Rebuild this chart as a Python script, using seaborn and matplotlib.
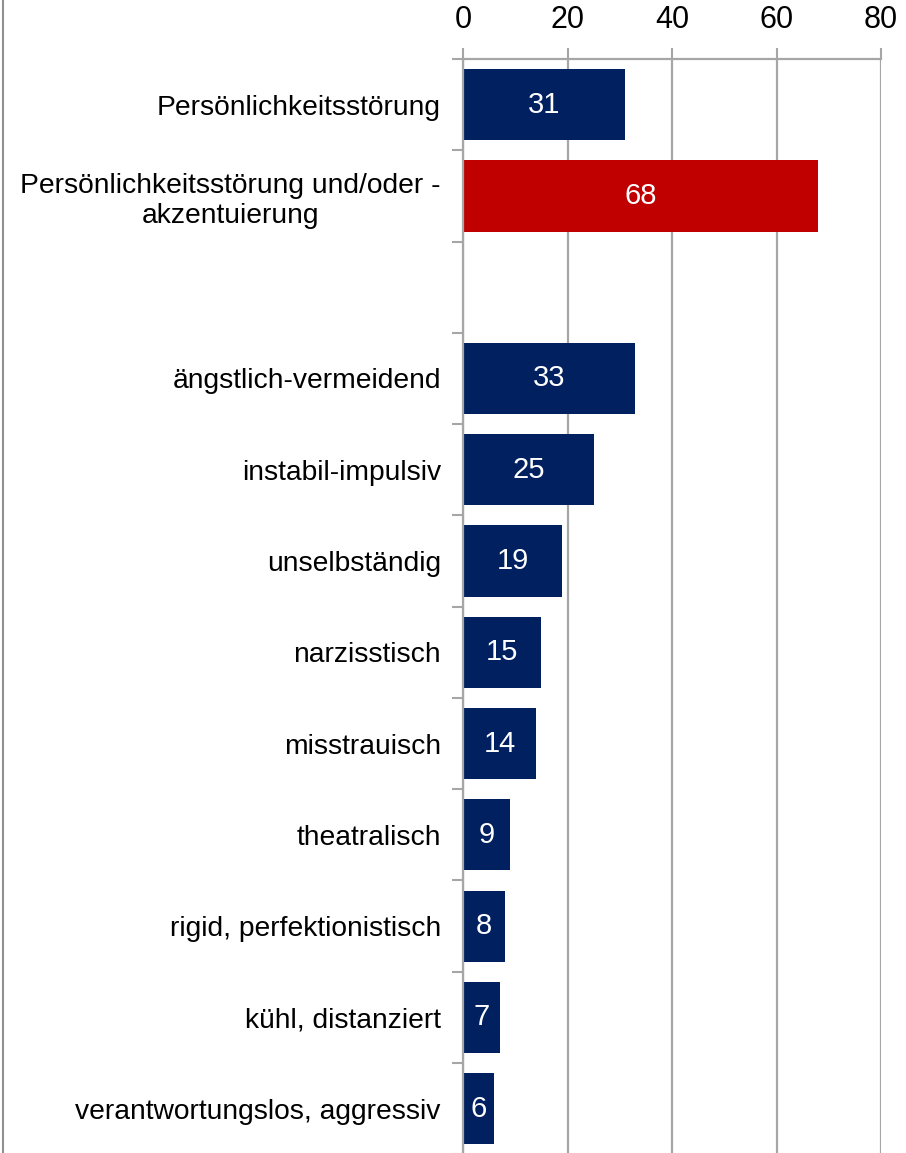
import numpy as np
import pandas as pd
import seaborn as sns
import matplotlib.pyplot as plt
from matplotlib.lines import Line2D
from matplotlib.ticker import FixedLocator

categories = [
    "Persönlichkeitsstörung",
    "Persönlichkeitsstörung und/oder -\nakzentuierung",
    " ",
    "ängstlich-vermeidend",
    "instabil-impulsiv",
    "unselbständig",
    "narzisstisch",
    "misstrauisch",
    "theatralisch",
    "rigid, perfektionistisch",
    "kühl, distanziert",
    "verantwortungslos, aggressiv",
]
values = [31, 68, np.nan, 33, 25, 19, 15, 14, 9, 8, 7, 6]
x_ticks = [0, 20, 40, 60, 80]

navy = "#002060"
red = "#C00000"
grid_col = "#A6A6A6"

df = pd.DataFrame({"kategorie": categories, "wert": values})
df_bars = df.dropna()
palette = {c: (red if "und/oder" in c else navy) for c in df_bars["kategorie"]}

sns.set_theme(style="white")
plt.rcParams["font.family"] = ["Liberation Sans", "DejaVu Sans"]
plt.rcParams["text.color"] = "black"
plt.rcParams["xtick.labelcolor"] = "black"
plt.rcParams["ytick.labelcolor"] = "black"

fig = plt.figure(figsize=(9.06, 11.53), dpi=100)
ax = fig.add_axes([463 / 906, -1.3 / 1153, 418 / 906, (1153 - 59 + 1.3) / 1153])

sns.barplot(data=df_bars, x="wert", y="kategorie", hue="kategorie", order=categories,
            palette=palette, width=0.78, legend=False, orient="h", ax=ax,
            saturation=1, edgecolor="none")

# value labels inside bars
for cont in ax.containers:
    ax.bar_label(cont, label_type="center", color="white", fontsize=21)

ax.set_xlim(0, 80)
ax.set_ylim(len(categories) - 0.5, -0.5)
ax.set_xticks(x_ticks)
ax.xaxis.tick_top()
ax.xaxis.set_label_position("top")
ax.set_xlabel("")
ax.set_ylabel("")
ax.tick_params(axis="x", which="major", length=8, width=1.5, color=grid_col,
               labelsize=22, labelcolor="black", pad=9, top=True, bottom=False)
ax.grid(axis="x", color=grid_col, linewidth=1.6)
ax.set_axisbelow(True)

# category labels centred on slots, tick marks on slot boundaries
ax.set_yticks(range(len(categories)))
ax.set_yticklabels(categories, fontsize=20.3, multialignment="center")
ax.tick_params(axis="y", which="major", length=0, pad=16, labelcolor="black")
ax.yaxis.set_minor_locator(FixedLocator(np.arange(-0.5, len(categories), 1.0)))
ax.tick_params(axis="y", which="minor", length=8, width=1.5, color=grid_col, left=True)

for side in ["right", "bottom"]:
    ax.spines[side].set_visible(False)
for side in ["top", "left"]:
    ax.spines[side].set_color(grid_col)
    ax.spines[side].set_linewidth(1.6)

# outer frame line at the left edge of the image
fig.add_artist(Line2D([2.5 / 906, 2.5 / 906], [0, 1], color="#909090", linewidth=1.5,
                      transform=fig.transFigure))

fig.savefig("out.png", dpi=100)
